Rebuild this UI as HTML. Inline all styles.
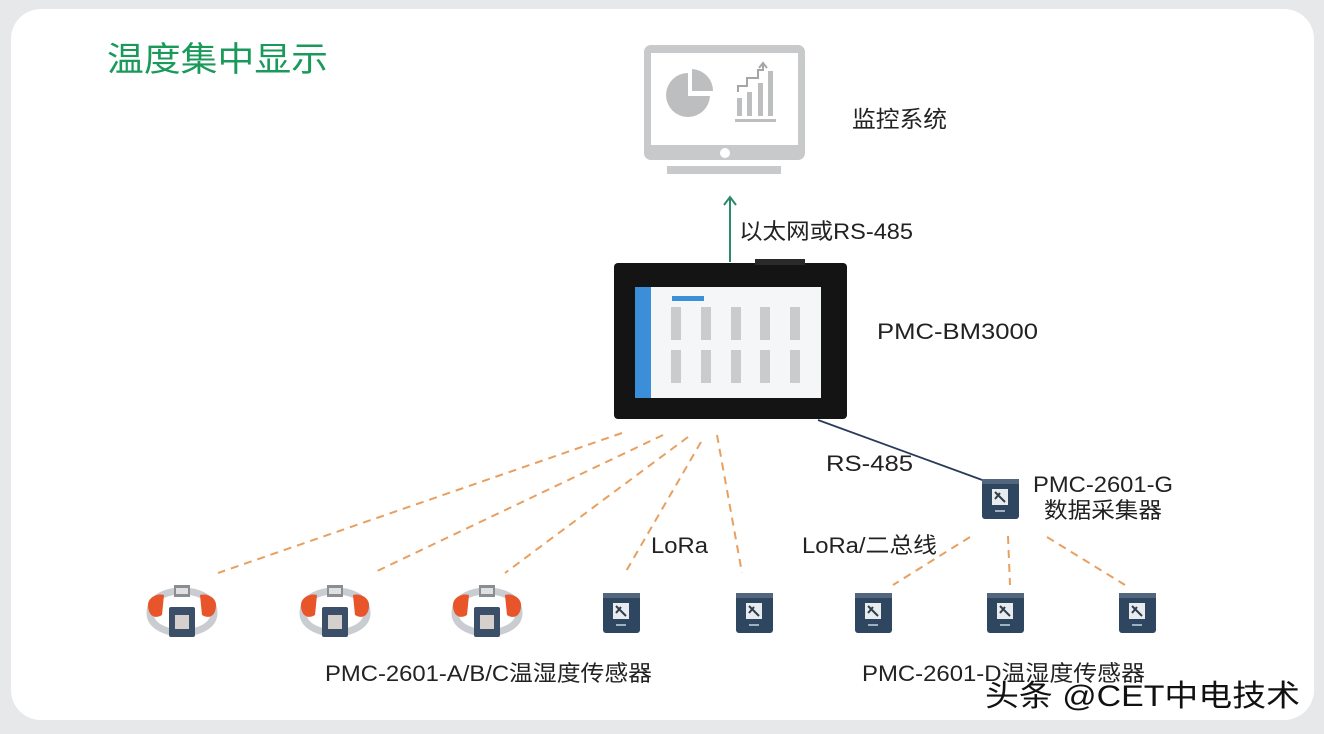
<!DOCTYPE html>
<html><head><meta charset="utf-8"><style>
html,body{margin:0;padding:0;background:#e6e8ea;}
svg{display:block}
text{font-family:"Liberation Sans","Noto Sans CJK SC",sans-serif;}
</style></head><body>
<svg width="1324" height="734" viewBox="0 0 1324 734" xmlns="http://www.w3.org/2000/svg">
<defs>
<g id="box">
  <rect x="0" y="0" width="37" height="40" rx="3" fill="#2f4660"/>
  <rect x="0" y="0" width="37" height="5" fill="#52677e"/>
  <rect x="10" y="10" width="16" height="16" fill="#e8ecef"/>
  <path d="M13 13 L23 23 M13 20 L18 14" stroke="#2f3e4e" stroke-width="2"/>
  <rect x="13" y="31" width="10" height="2" fill="#9fb0c0"/>
</g>
<g id="ring">
  <path d="M-32 0 C-32 -18 -12 -22 0 -22 C12 -22 32 -18 32 0 C32 14 14 20 0 20 C-14 20 -32 14 -32 0 Z" fill="none" stroke="#c9ccd0" stroke-width="7"/>
  <path d="M-34 -8 C-34 -16 -24 -20 -18 -18 L-20 2 C-26 6 -34 4 -34 -8 Z" fill="#e8552a"/>
  <path d="M34 -8 C34 -16 24 -20 18 -18 L20 2 C26 6 34 4 34 -8 Z" fill="#e8552a"/>
  <rect x="-8" y="-28" width="16" height="12" fill="#8a8d92"/>
  <rect x="-6" y="-25" width="12" height="6" fill="#e0e0e0"/>
  <rect x="-13" y="-6" width="26" height="30" rx="2" fill="#3b5068"/>
  <rect x="-7" y="2" width="14" height="14" fill="#d6d0cc"/>
</g>
</defs>
<rect x="11" y="9" width="1303" height="711" rx="30" fill="#ffffff"/>
<text x="107" y="71" font-size="34" fill="#1a9a5a" textLength="221" lengthAdjust="spacingAndGlyphs">温度集中显示</text>

<!-- monitor -->
<rect x="644" y="45" width="161" height="115" rx="7" fill="#c8c9cb"/>
<rect x="651" y="53" width="147" height="92" fill="#fff"/>
<circle cx="725" cy="153" r="5" fill="#fff"/>
<rect x="667" y="166" width="114" height="8" fill="#c8c9cb"/>
<path d="M688 73 A22 22 0 1 0 710 96 L688 96 Z" fill="#bdbec0"/>
<path d="M692 69 A22 22 0 0 1 713 91 L692 91 Z" fill="#bdbec0"/>
<rect x="737" y="98" width="5" height="18" fill="#bdbec0"/>
<rect x="747" y="92" width="5" height="24" fill="#bdbec0"/>
<rect x="758" y="83" width="5" height="33" fill="#bdbec0"/>
<rect x="768" y="71" width="5" height="45" fill="#bdbec0"/>
<rect x="735" y="119" width="41" height="3" fill="#bdbec0"/>
<path d="M738 92 L738 86 L747 86 L747 78 L758 78 L758 70 L763 70 L763 64" fill="none" stroke="#a5a6a8" stroke-width="2"/>
<path d="M759 68 L763 63 L767 68" fill="none" stroke="#a5a6a8" stroke-width="2"/>
<text x="852" y="127" font-size="23" fill="#222" textLength="95" lengthAdjust="spacingAndGlyphs">监控系统</text>

<!-- arrow -->
<line x1="730" y1="262" x2="730" y2="198" stroke="#2a8a6a" stroke-width="2"/>
<path d="M724 205 L730 197 L736 205" fill="none" stroke="#2a8a6a" stroke-width="2"/>
<text x="739" y="239" font-size="22" fill="#222" textLength="174" lengthAdjust="spacingAndGlyphs">以太网或RS-485</text>

<!-- BM3000 -->
<rect x="614" y="263" width="233" height="156" rx="4" fill="#141414"/>
<rect x="755" y="259" width="50" height="6" fill="#2a2a2a"/>
<rect x="635" y="287" width="186" height="111" fill="#f4f6f8"/>
<rect x="635" y="287" width="16" height="111" fill="#3a8fd8"/>
<rect x="672" y="296" width="32" height="5" fill="#3a8fd8"/>
<g fill="#c9cbcd">
<rect x="671" y="307" width="10" height="33"/><rect x="701" y="307" width="10" height="33"/><rect x="731" y="307" width="10" height="33"/><rect x="760" y="307" width="10" height="33"/><rect x="790" y="307" width="10" height="33"/>
<rect x="671" y="350" width="10" height="33"/><rect x="701" y="350" width="10" height="33"/><rect x="731" y="350" width="10" height="33"/><rect x="760" y="350" width="10" height="33"/><rect x="790" y="350" width="10" height="33"/>
</g>
<text x="877" y="339" font-size="22" fill="#222" textLength="161" lengthAdjust="spacingAndGlyphs">PMC-BM3000</text>

<!-- RS485 -->
<line x1="818" y1="420" x2="985" y2="481" stroke="#2a3a5a" stroke-width="1.8"/>
<text x="826" y="471" font-size="22" fill="#222" textLength="87" lengthAdjust="spacingAndGlyphs">RS-485</text>
<use href="#box" x="982" y="479"/>
<text x="1033" y="492" font-size="22" fill="#222" textLength="140" lengthAdjust="spacingAndGlyphs">PMC-2601-G</text>
<text x="1044" y="518" font-size="22" fill="#222" textLength="118" lengthAdjust="spacingAndGlyphs">数据采集器</text>

<!-- dashed lines -->
<g stroke="#e8a060" stroke-width="2" stroke-dasharray="8 6" fill="none">
<line x1="622" y1="433" x2="218" y2="573"/>
<line x1="663" y1="435" x2="373" y2="573"/>
<line x1="688" y1="437" x2="505" y2="573"/>
<line x1="701" y1="442" x2="625" y2="573"/>
<line x1="717" y1="435" x2="742" y2="573"/>
<line x1="970" y1="537" x2="893" y2="585"/>
<line x1="1008" y1="536" x2="1010" y2="585"/>
<line x1="1047" y1="537" x2="1125" y2="585"/>
</g>
<text x="651" y="553" font-size="22" fill="#222" textLength="57" lengthAdjust="spacingAndGlyphs">LoRa</text>
<text x="802" y="553" font-size="22" fill="#222" textLength="135" lengthAdjust="spacingAndGlyphs">LoRa/二总线</text>

<!-- sensors -->
<use href="#ring" x="182" y="613"/>
<use href="#ring" x="335" y="613"/>
<use href="#ring" x="487" y="613"/>
<use href="#box" x="603" y="593"/>
<use href="#box" x="736" y="593"/>
<use href="#box" x="855" y="593"/>
<use href="#box" x="987" y="593"/>
<use href="#box" x="1119" y="593"/>

<text x="325" y="681" font-size="22" fill="#222" textLength="327" lengthAdjust="spacingAndGlyphs">PMC-2601-A/B/C温湿度传感器</text>
<text x="862" y="681" font-size="22" fill="#222" textLength="283" lengthAdjust="spacingAndGlyphs">PMC-2601-D温湿度传感器</text>
<text x="985" y="706" font-size="30" fill="#111" stroke="#fff" stroke-width="1" paint-order="stroke" textLength="315" lengthAdjust="spacingAndGlyphs">头条 @CET中电技术</text>
</svg>
</body></html>
